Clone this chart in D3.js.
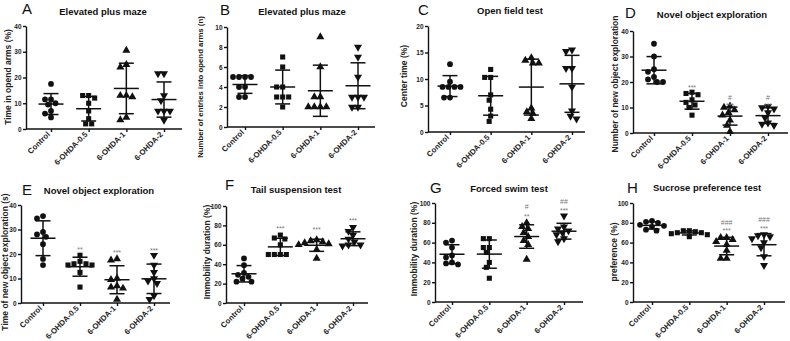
<!DOCTYPE html>
<html>
<head>
<meta charset="utf-8">
<script src="https://cdn.jsdelivr.net/npm/d3@7"></script>
<style>
	body { margin: 0; background: #fff; }
	svg { display: block; font-family: Arial, 'Liberation Sans', sans-serif; }
	.tick text { font-weight: bold; fill: #222; }
	.tick line, .domain { stroke: #111; stroke-width: 1.4; }
</style>
</head>
<body>
<svg id="viz" width="790" height="341"></svg>
<script>
var groups = [ 'Control', '6-OHDA-0.5', '6-OHDA-1', '6-OHDA-2' ];

// values per group
var epmTime = [ [ 17.5, 11.5, 10, 11.5, 9.5, 6, 4.5, 7 ], [ 13, 13, 12, 10, 7, 4, 2, 2 ], [ 30.5, 25, 24, 13, 12.5, 13, 4.5, 3.5 ], [ 21.5, 21.5, 13, 11, 7, 7, 7, 3.5 ] ];
var epmEntries = [ [ 5, 5, 5, 5, 4, 4, 3, 3 ], [ 7, 6, 4, 4, 3, 3, 3, 2 ], [ 9, 6, 3, 3, 2, 2, 2, 2 ], [ 8, 7, 5, 3, 3, 3, 2, 2 ] ];
var oftCenter = [ [ 12.8, 9.5, 8.5, 8.5, 8.5, 8.5, 6.5, 6.5 ], [ 11.8, 10.3, 10.3, 7, 6, 4.3, 3, 2 ], [ 14, 13.5, 13, 13, 4.5, 3.8, 3.5, 2.5 ], [ 15.5, 15.2, 12, 12, 8.5, 4, 3, 2.5 ] ];
var norNumber = [ [ 35, 30, 25, 24, 22, 21, 20, 20 ], [ 16, 15.5, 15, 13, 12, 11, 10, 7 ], [ 10.5, 10, 9, 8, 7, 5, 3, 0.5 ], [ 10.5, 10, 9.5, 8, 6, 4, 3.5, 3 ] ];
var norTime = [ [ 35.5, 34.5, 29, 28, 27, 24, 18, 15.5 ], [ 19.5, 17, 16, 16, 15.5, 15.5, 12.5, 6.5 ], [ 18, 17.5, 10, 9.5, 7, 6.5, 6, 1.5 ], [ 19.5, 15.5, 12.5, 10, 9, 8, 3, 1.5 ] ];
var tstImmobility = [ [ 46, 39, 31, 29, 27, 25, 22, 22 ], [ 70, 67, 66, 60, 50, 50, 50, 50 ], [ 65, 64, 63, 62, 61, 60, 55, 46 ], [ 78, 74, 70, 66, 63, 60, 60, 59 ] ];
var fstImmobility = [ [ 62, 60, 55, 47, 45, 40, 39, 38 ], [ 64, 64, 55, 55, 50, 40, 35, 24 ], [ 80, 76, 74, 70, 66, 62, 58, 43 ], [ 87, 76, 74, 72, 70, 68, 64, 61 ] ];
var sptPreference = [ [ 82, 81, 80, 78, 77, 76, 73, 72 ], [ 72, 72, 71, 70, 70, 69, 68, 66 ], [ 65, 65, 63, 61, 58, 52, 44, 44 ], [ 68, 67, 66, 64, 60, 55, 46, 37 ] ];

// significance marks: group index, text, value where it sits
var annD = [ [ 1, '***', 18.5 ], [ 2, '#', 13.8 ], [ 2, '***', 11.2 ], [ 3, '#', 13.8 ], [ 3, '***', 11.2 ] ];
var annE = [ [ 1, '**', 22.4 ], [ 2, '***', 21.2 ], [ 3, '***', 22 ] ];
var annF = [ [ 1, '***', 78 ], [ 2, '***', 77 ], [ 3, '***', 87 ] ];
var annG = [ [ 2, '#', 96 ], [ 2, '**', 88 ], [ 3, '##', 102 ], [ 3, '***', 94 ] ];
var annH = [ [ 2, '###', 80 ], [ 2, '***', 74 ], [ 3, '###', 83 ], [ 3, '***', 76 ] ];

var panels = [
	{ id: 'A', title: 'Elevated plus maze', ylab: 'Time in opend arms (%)', values: epmTime, max: 40, step: 10, ann: [],
		ax: 26, axEnd: 182, c0: 51, c1: 164, top: 26, bot: 129, lx: 22, ly: 14, tx: 103, ty: 15, yx: 8, yy: 77, yfs: 8.5 },
	{ id: 'B', title: 'Elevated plus maze', ylab: 'Number of entries into opend arms (n)', values: epmEntries, max: 10, step: 2, ann: [],
		ax: 227, axEnd: 375, c0: 245, c1: 358, top: 27, bot: 127, lx: 220, ly: 15, tx: 302, ty: 15, yx: 200, yy: 87, yfs: 7.8 },
	{ id: 'C', title: 'Open field test', ylab: 'Center time (%)', values: oftCenter, max: 20, step: 5, ann: [],
		ax: 428, axEnd: 585, c0: 450, c1: 572, top: 26, bot: 132, lx: 418, ly: 15, tx: 510, ty: 14, yx: 404, yy: 76, yfs: 8.5 },
	{ id: 'D', title: 'Novel object exploration', ylab: 'Number of new object exploration', values: norNumber, max: 40, step: 10, ann: annD,
		ax: 633, axEnd: 788, c0: 654, c1: 768, top: 31, bot: 133, lx: 625, ly: 18, tx: 712, ty: 18, yx: 615, yy: 84, yfs: 8.5 },
	{ id: 'E', title: 'Novel object exploration', ylab: 'Time of new object exploration (s)', values: norTime, max: 40, step: 10, ann: annE,
		ax: 21, axEnd: 170, c0: 43, c1: 154, top: 205, bot: 303, lx: 22, ly: 195, tx: 99, ty: 194, yx: 5, yy: 262, yfs: 8.5 },
	{ id: 'F', title: 'Tail suspension test', ylab: 'Immobility duration  (%)', values: tstImmobility, max: 100, step: 20, ann: annF,
		ax: 226, axEnd: 368, c0: 244, c1: 353, top: 206, bot: 303, lx: 225, ly: 190, tx: 296, ty: 193, yx: 207, yy: 252, yfs: 8.5 },
	{ id: 'G', title: 'Forced swim test', ylab: 'Immobility duration  (%)', values: fstImmobility, max: 100, step: 20, ann: annG,
		ax: 435, axEnd: 583, c0: 452, c1: 564, top: 203, bot: 302, lx: 430, ly: 193, tx: 509, ty: 192, yx: 414, yy: 249, yfs: 8.5 },
	{ id: 'H', title: 'Sucrose preference test', ylab: 'preference (%)', values: sptPreference, max: 100, step: 20, ann: annH,
		ax: 633, axEnd: 785, c0: 652, c1: 764, top: 203, bot: 302, lx: 627, ly: 193, tx: 707, ty: 191, yx: 614, yy: 252, yfs: 8.5 }
];

var symbols = [
	d3.symbol().type( d3.symbolCircle ).size( 26 ),
	d3.symbol().type( d3.symbolSquare ).size( 26 ),
	d3.symbol().type( d3.symbolTriangle ).size( 28 ),
	d3.symbol().type( d3.symbolTriangle ).size( 28 )
];

var svg = d3.select( '#viz' );

// simple beeswarm: push a point sideways until it clears the ones already placed
var spread = function ( vals, y, cx ) {
	var pts = vals.map( function ( v ) { return { v: v, py: y( v ) }; } )
		.sort( function ( a, b ) { return a.py - b.py; } );
	var placed = [];
	pts.forEach( function ( p ) {
		for ( var k = 0; k < 40; k++ ) {
			var off = ( k % 2 ? -1 : 1 ) * Math.ceil( k / 2 ) * 1.5;
			var ok = placed.every( function ( q ) {
				var dx = q.px - ( cx + off ), dy = q.py - p.py;
				return dx * dx + dy * dy >= 30;
			} );
			if ( ok ) { p.px = cx + off; break; }
		}
		placed.push( p );
	} );
	return pts;
};

panels.forEach( function ( p ) {
	var g = svg.append( 'g' );
	var y = d3.scaleLinear().domain( [ 0, p.max ] ).range( [ p.bot, p.top ] );
	var x = d3.scalePoint().domain( groups ).range( [ p.c0, p.c1 ] );

	g.append( 'text' )
		.attr( 'x', p.lx ).attr( 'y', p.ly )
		.style( 'font-size', '15px' ).attr( 'fill', '#111' )
		.text( p.id );
	g.append( 'text' )
		.attr( 'x', p.tx ).attr( 'y', p.ty )
		.attr( 'text-anchor', 'middle' )
		.style( 'font-size', '9.5px' ).style( 'font-weight', 'bold' ).attr( 'fill', '#111' )
		.text( p.title );
	g.append( 'text' )
		.attr( 'transform', 'translate(' + p.yx + ',' + p.yy + ') rotate(-90)' )
		.attr( 'text-anchor', 'middle' ).attr( 'dy', '0.35em' )
		.style( 'font-size', p.yfs + 'px' ).style( 'font-weight', 'bold' ).attr( 'fill', '#222' )
		.text( p.ylab );

	var ticks = d3.range( 0, p.max + p.step / 2, p.step );
	g.append( 'g' )
		.attr( 'transform', 'translate(' + p.ax + ',0)' )
		.call( d3.axisLeft( y ).tickValues( ticks ).tickSize( 3 ).tickSizeOuter( 0 ).tickPadding( 1.5 ) )
		.call( function ( a ) { a.selectAll( 'text' ).style( 'font-size', '6.5px' ).attr( 'font-family', null ); } );

	var xa = g.append( 'g' )
		.attr( 'transform', 'translate(0,' + p.bot + ')' )
		.call( d3.axisBottom( x ).tickSize( 3 ).tickSizeOuter( 0 ) );
	xa.select( '.domain' ).remove();
	xa.selectAll( 'text' )
		.attr( 'font-family', null )
		.style( 'font-size', '7.8px' )
		.attr( 'text-anchor', 'end' )
		.attr( 'transform', 'translate(-3,4) rotate(-45)' )
		.attr( 'dy', '0.35em' ).attr( 'y', 0 );
	g.append( 'line' )
		.attr( 'x1', p.ax ).attr( 'x2', p.axEnd )
		.attr( 'y1', p.bot ).attr( 'y2', p.bot )
		.attr( 'stroke', '#111' ).attr( 'stroke-width', 1.4 );

	p.values.forEach( function ( vals, gi ) {
		var cx = x( groups[gi] );
		var pts = spread( vals, y, cx );
		g.selectAll( null )
			.data( pts )
			.enter()
			.append( 'path' )
			.attr( 'd', symbols[gi] )
			.attr( 'transform', function ( d ) {
				return 'translate(' + d.px + ',' + d.py + ')' + ( gi === 3 ? ' rotate(180)' : '' );
			} )
			.attr( 'fill', '#111' );

		var m = d3.mean( vals ), sd = d3.deviation( vals );
		var bar = g.append( 'g' ).attr( 'stroke', '#111' ).attr( 'stroke-width', 1.5 );
		bar.append( 'line' ).attr( 'x1', cx ).attr( 'x2', cx ).attr( 'y1', y( m + sd ) ).attr( 'y2', y( m - sd ) );
		bar.append( 'line' ).attr( 'x1', cx - 12.5 ).attr( 'x2', cx + 12.5 ).attr( 'y1', y( m ) ).attr( 'y2', y( m ) );
		[ m + sd, m - sd ].forEach( function ( v ) {
			bar.append( 'line' ).attr( 'x1', cx - 7.5 ).attr( 'x2', cx + 7.5 ).attr( 'y1', y( v ) ).attr( 'y2', y( v ) );
		} );
	} );

	g.selectAll( 'text.ann' )
		.data( p.ann )
		.enter()
		.append( 'text' )
		.classed( 'ann', true )
		.attr( 'x', function ( d ) { return x( groups[d[0]] ); } )
		.attr( 'y', function ( d ) { return y( d[2] ) + ( d[1].charAt( 0 ) === '*' ? 4 : 2.5 ); } )
		.attr( 'text-anchor', 'middle' )
		.style( 'font-size', '7px' ).attr( 'fill', '#777' )
		.text( function ( d ) { return d[1]; } );
} );
</script>
</body>
</html>
